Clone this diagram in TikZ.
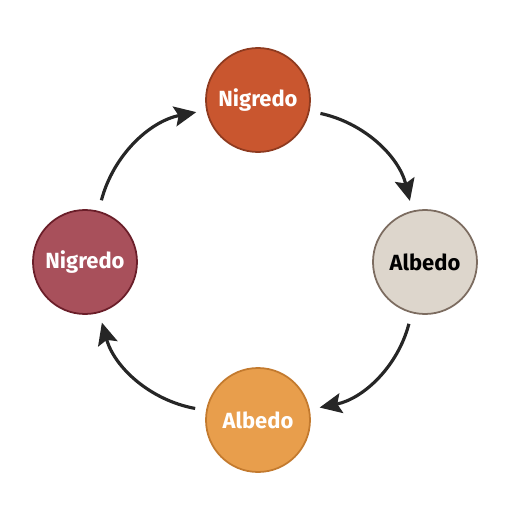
\documentclass[tikz,border=0pt]{standalone}
\usepackage{fontspec}
\setmainfont{Fira Sans}
\usetikzlibrary{arrows.meta}

\definecolor{nigredoA}{HTML}{C9562F}
\definecolor{nigredoAline}{HTML}{8E3A1F}
\definecolor{albedoA}{HTML}{DDD6CC}
\definecolor{albedoAline}{HTML}{7C6C60}
\definecolor{albedoB}{HTML}{E89E4C}
\definecolor{albedoBline}{HTML}{C37A2E}
\definecolor{nigredoB}{HTML}{A8505B}
\definecolor{nigredoBline}{HTML}{6A1E29}

\begin{document}
\begin{tikzpicture}
	\useasboundingbox (-5.12,-5.12) rectangle (5.12,5.12);
	\tikzstyle{every node} = [circle, draw, line width=1pt, minimum size = 2.08cm, font=\fontsize{12.5}{14}\selectfont\bfseries, text=white]
	\tikzstyle{cycle} = [-{Stealth[length=0.44cm, width=0.4cm, inset=0.08cm]}, line width=1.8pt, color=black!85, shorten <=0.22cm, shorten >=0.2cm, bend left=32]
	\node (1) at (0.04, 3.12) [fill=nigredoA, draw=nigredoAline] {Nigredo};
	\node (2) at (3.38, -0.12) [fill=albedoA, draw=albedoAline, text=black] {Albedo};
	\node (3) at (0.04, -3.28) [fill=albedoB, draw=albedoBline] {Albedo};
	\node (4) at (-3.42, -0.12) [fill=nigredoB, draw=nigredoBline] {Nigredo};
	\draw [cycle] (1) to (2);
	\draw [cycle] (2) to (3);
	\draw [cycle] (3) to (4);
	\draw [cycle] (4) to (1);
\end{tikzpicture}
\end{document}
